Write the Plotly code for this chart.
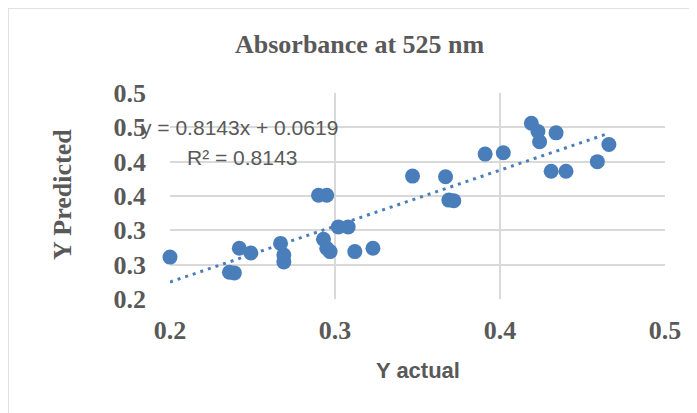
import plotly.graph_objects as go

# ---- data ----
x_actual = [0.200, 0.236, 0.239, 0.242, 0.249, 0.267, 0.269, 0.269, 0.290, 0.295,
            0.293, 0.295, 0.297, 0.302, 0.308, 0.312, 0.323, 0.347, 0.367, 0.369,
            0.372, 0.391, 0.402, 0.419, 0.423, 0.424, 0.434, 0.431, 0.440, 0.459, 0.466]
y_predicted = [0.261, 0.239, 0.238, 0.274, 0.267, 0.281, 0.264, 0.254, 0.351, 0.351,
               0.287, 0.274, 0.269, 0.305, 0.305, 0.269, 0.274, 0.379, 0.378, 0.344,
               0.343, 0.411, 0.413, 0.456, 0.444, 0.429, 0.442, 0.386, 0.386, 0.400, 0.425]
trend_slope = 0.8143
trend_intercept = 0.0619
trend_r2 = 0.8143

x_tickvals = [0.2, 0.3, 0.4, 0.5]
x_ticktext = ["0.2", "0.3", "0.4", "0.5"]
y_tickvals = [0.2, 0.25, 0.3, 0.35, 0.4, 0.45, 0.5]
y_ticktext = ["0.2", "0.3", "0.3", "0.4", "0.4", "0.5", "0.5"]

title_text = "Absorbance at 525 nm"
x_title = "Y actual"
y_title = "Y Predicted"

# ---- layout geometry ----
# The page body has an 8px margin, so the figure starts at (8, 8) of the window.
OFF = 8
WIN_W, WIN_H = 697, 413
W, H = WIN_W - OFF, WIN_H - OFF
plot_left, plot_right, plot_top, plot_bottom = 170, 665, 93, 299   # window pixels
L = plot_left - OFF
T = plot_top - OFF
R = WIN_W - plot_right
B = WIN_H - plot_bottom
pw, ph = W - L - R, H - T - B


def px(xw):
    return (xw - plot_left) / pw


def py(yw):
    return (plot_bottom - yw) / ph


blue = "#4A7EBB"
grey_text = "#595959"
grid = "#D9D9D9"
serif = "Liberation Serif, Times New Roman, serif"
sans = "Liberation Sans, Arial, sans-serif"

tx = [min(x_actual), max(x_actual)]
ty = [trend_slope * v + trend_intercept for v in tx]

fig = go.Figure()
fig.add_trace(go.Scatter(
    x=tx, y=ty, mode="lines",
    line=dict(color=blue, width=3, dash="3px,5px"),
    hoverinfo="skip", showlegend=False, cliponaxis=False,
))
fig.add_trace(go.Scatter(
    x=x_actual, y=y_predicted, mode="markers",
    marker=dict(color=blue, size=15, line=dict(width=0)),
    showlegend=False, cliponaxis=False,
))

fig.update_layout(
    width=W, height=H,
    margin=dict(l=L, r=R, t=T, b=B, autoexpand=False),
    paper_bgcolor="white", plot_bgcolor="white",
    showlegend=False,
    xaxis=dict(
        range=[0.2, 0.5], tickvals=x_tickvals, ticktext=x_ticktext,
        showgrid=True, gridcolor=grid, gridwidth=1.5,
        zeroline=False, showline=False, automargin=False,
        tickfont=dict(family=serif, size=26, color=grey_text, weight="bold"),
        ticks="", ticklabelstandoff=13,
    ),
    yaxis=dict(
        range=[0.2, 0.5], tickvals=y_tickvals, ticktext=y_ticktext,
        showgrid=True, gridcolor=grid, gridwidth=1.5,
        zeroline=False, showline=False, automargin=False,
        tickfont=dict(family=serif, size=26, color=grey_text, weight="bold"),
        ticks="", ticklabelstandoff=23,
    ),
    shapes=[
        dict(type="rect", xref="paper", yref="paper",
             x0=px(8), x1=px(760), y0=py(8), y1=py(470),
             line=dict(color=grid, width=1.5), fillcolor="rgba(0,0,0,0)", layer="below"),
    ],
    annotations=[
        dict(text=title_text, xref="paper", yref="paper", x=px(360), y=py(44),
             xanchor="center", yanchor="middle", showarrow=False,
             font=dict(family=serif, size=26, color=grey_text, weight="bold")),
        dict(text=x_title, xref="paper", yref="paper", x=px(418), y=py(370),
             xanchor="center", yanchor="middle", showarrow=False,
             font=dict(family=sans, size=22, color=grey_text, weight="bold")),
        dict(text=y_title, xref="paper", yref="paper", x=px(62), y=py(195),
             xanchor="center", yanchor="middle", showarrow=False, textangle=-90,
             font=dict(family=serif, size=26, color=grey_text, weight="bold")),
        dict(text=f"y = {trend_slope}x + {trend_intercept}", xref="paper", yref="paper",
             x=px(139), y=py(127), xanchor="left", yanchor="middle", showarrow=False,
             font=dict(family=sans, size=21, color=grey_text)),
        dict(text=f"R² = {trend_r2}", xref="paper", yref="paper",
             x=px(185), y=py(157), xanchor="left", yanchor="middle", showarrow=False,
             font=dict(family=sans, size=21, color=grey_text)),
    ],
)

fig.write_html("out.html")
